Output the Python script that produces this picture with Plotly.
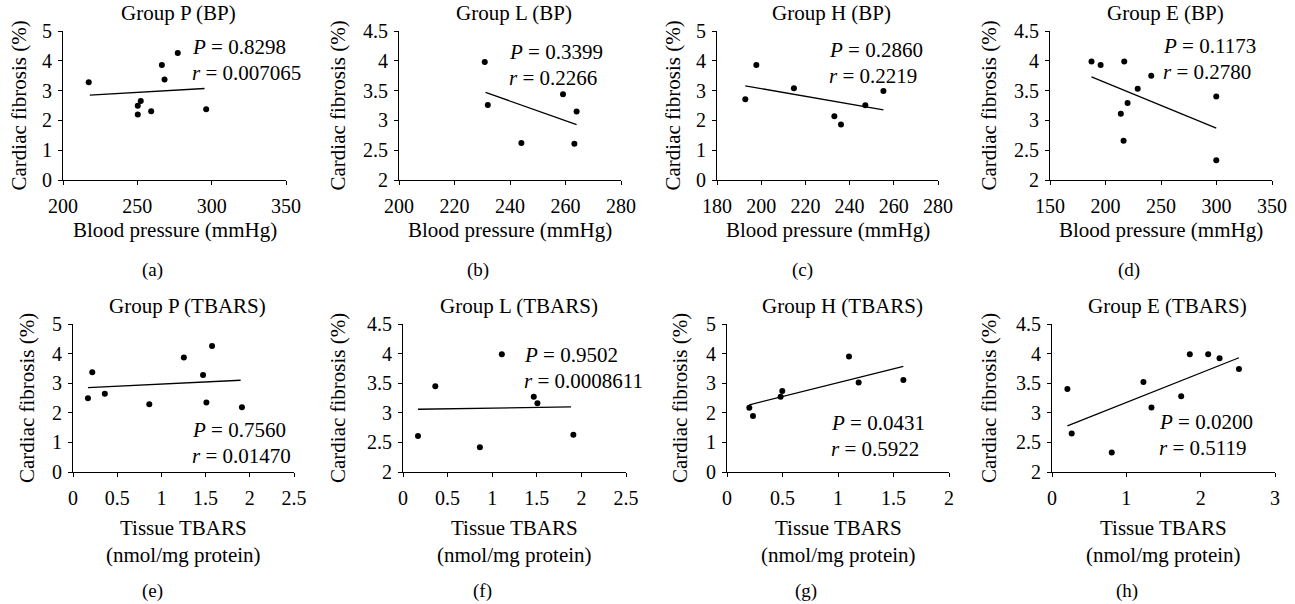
import plotly.graph_objects as go

W, H = 1295, 604

# ---------------- data ----------------
# (a) Group P (BP)
a_x = [217.3, 266.5, 277.2, 268.3, 252.3, 250.3, 250.3, 259.3, 296.3]
a_y = [3.28, 3.86, 4.26, 3.37, 2.65, 2.49, 2.20, 2.31, 2.37]
a_trend_x = [218.0, 295.2]
a_trend_y = [2.85, 3.07]
# (b) Group L (BP)
b_x = [230.9, 232.0, 244.1, 259.1, 264.0, 263.2]
b_y = [3.98, 3.26, 2.62, 3.44, 3.15, 2.61]
b_trend_x = [231.2, 264.0]
b_trend_y = [3.47, 2.93]
# (c) Group H (BP)
c_x = [192.8, 197.8, 214.8, 233.1, 236.1, 247.1, 255.3]
c_y = [2.71, 3.86, 3.08, 2.14, 1.86, 2.51, 2.99]
c_trend_x = [192.8, 255.3]
c_trend_y = [3.16, 2.35]
# (d) Group E (BP)
d_x = [187.4, 195.6, 216.9, 241.2, 229.0, 219.9, 213.8, 216.3, 299.8, 299.8]
d_y = [3.99, 3.93, 3.99, 3.75, 3.53, 3.29, 3.11, 2.66, 3.40, 2.33]
d_trend_x = [187.4, 299.8]
d_trend_y = [3.73, 2.87]
# (e) Group P (TBARS)
e_x = [0.169, 0.218, 0.360, 0.863, 1.254, 1.471, 1.573, 1.509, 1.911]
e_y = [2.49, 3.37, 2.64, 2.29, 3.87, 3.28, 4.26, 2.35, 2.19]
e_trend_x = [0.169, 1.896]
e_trend_y = [2.85, 3.10]
# (f) Group L (TBARS)
f_x = [0.168, 0.362, 0.862, 1.108, 1.466, 1.507, 1.910]
f_y = [2.61, 3.45, 2.42, 3.99, 3.27, 3.16, 2.63]
f_trend_x = [0.168, 1.884]
f_trend_y = [3.06, 3.10]
# (g) Group H (TBARS)
g_x = [0.201, 0.234, 0.483, 0.498, 1.099, 1.186, 1.589]
g_y = [2.17, 1.89, 2.54, 2.74, 3.90, 3.02, 3.11]
g_trend_x = [0.201, 1.589]
g_trend_y = [2.27, 3.57]
# (h) Group E (TBARS)
h_x = [0.207, 0.265, 0.804, 1.230, 1.338, 1.738, 1.854, 2.101, 2.254, 2.515]
h_y = [3.40, 2.65, 2.33, 3.52, 3.09, 3.28, 3.99, 3.99, 3.92, 3.74]
h_trend_x = [0.207, 2.515]
h_trend_y = [2.78, 3.93]

titles = ["Group P (BP)", "Group L (BP)", "Group H (BP)", "Group E (BP)",
          "Group P (TBARS)", "Group L (TBARS)", "Group H (TBARS)", "Group E (TBARS)"]
letters = ["(a)", "(b)", "(c)", "(d)", "(e)", "(f)", "(g)", "(h)"]
p_texts = ["0.8298", "0.3399", "0.2860", "0.1173", "0.7560", "0.9502", "0.0431", "0.0200"]
r_texts = ["0.007065", "0.2266", "0.2219", "0.2780", "0.01470", "0.0008611", "0.5922", "0.5119"]
x_titles = ["Blood pressure (mmHg)"] * 4 + ["Tissue TBARS<br>(nmol/mg protein)"] * 4
y_title = "Cardiac fibrosis (%)"
x_ranges = [[200, 350], [200, 280], [180, 280], [150, 350],
            [0, 2.5], [0, 2.5], [0, 2], [0, 3]]
x_dticks = [50, 20, 20, 50, 0.5, 0.5, 0.5, 1]
y_ranges = [[0, 5], [2, 4.5], [0, 5], [2, 4.5],
            [0, 5], [2, 4.5], [0, 5], [2, 4.5]]
y_dticks = [1, 0.5, 1, 0.5, 1, 0.5, 1, 0.5]

xs = [a_x, b_x, c_x, d_x, e_x, f_x, g_x, h_x]
ys = [a_y, b_y, c_y, d_y, e_y, f_y, g_y, h_y]
txs = [a_trend_x, b_trend_x, c_trend_x, d_trend_x, e_trend_x, f_trend_x, g_trend_x, h_trend_x]
tys = [a_trend_y, b_trend_y, c_trend_y, d_trend_y, e_trend_y, f_trend_y, g_trend_y, h_trend_y]

# ---------------- layout geometry (window pixels) ----------------
plot_x = [(63, 286), (399, 621), (717, 938), (1050, 1272),
          (73, 294), (403, 626), (727, 949), (1052, 1275)]
row_y = [(31, 180), (324, 472)]
stat_pos = [(190, 47, 73), (507, 52, 78), (827, 50, 76), (1161, 46, 72),
            (190, 430, 456), (522, 355, 381), (829, 423, 449), (1157, 422, 448)]
ytitle_x = [18, 337, 672, 988, 27, 338, 680, 989]
letter_x = [152, 478, 802, 1129, 152, 482, 806, 1127]

FONT = "Liberation Serif, Times New Roman, Times, serif"
FS = 21
TFS = 20

def px(x):
    return x / W

def py(y):
    return 1 - y / H

fig = go.Figure()
annotations = []
layout = {}

for i in range(8):
    k = i + 1
    xa = "x" if k == 1 else f"x{k}"
    ya = "y" if k == 1 else f"y{k}"
    row = 0 if i < 4 else 1
    x0, x1 = plot_x[i]
    y0, y1 = row_y[row]

    fig.add_trace(go.Scatter(x=txs[i], y=tys[i], mode="lines",
                             line=dict(color="black", width=1.3),
                             xaxis=xa, yaxis=ya, showlegend=False, hoverinfo="skip"))
    fig.add_trace(go.Scatter(x=xs[i], y=ys[i], mode="markers",
                             marker=dict(color="black", size=6),
                             xaxis=xa, yaxis=ya, showlegend=False))

    axis_common = dict(showgrid=False, zeroline=False, showline=True,
                       linecolor="black", linewidth=1, ticks="outside",
                       ticklen=4, tickwidth=1, tickcolor="black", automargin=False,
                       tickfont=dict(family=FONT, size=TFS, color="black"))
    layout["xaxis" if k == 1 else f"xaxis{k}"] = dict(
        domain=[px(x0), px(x1)], range=x_ranges[i], dtick=x_dticks[i], tick0=0,
        anchor=ya, ticklabelstandoff=4, **axis_common)
    layout["yaxis" if k == 1 else f"yaxis{k}"] = dict(
        domain=[py(y1), py(y0)], range=y_ranges[i], dtick=y_dticks[i], tick0=0,
        anchor=xa, ticklabelstandoff=2, **axis_common)

    cx = (x0 + x1) / 2
    # panel title
    annotations.append(dict(text=titles[i], x=px(cx + 4), y=py(y0 - 18),
                            xref="paper", yref="paper", showarrow=False,
                            xanchor="center", yanchor="middle",
                            font=dict(family=FONT, size=FS, color="black")))
    # stats
    sx, sy1, sy2 = stat_pos[i]
    annotations.append(dict(text=f"<i>P</i> = {p_texts[i]}", x=px(sx), y=py(sy1),
                            xref="paper", yref="paper", showarrow=False,
                            xanchor="left", yanchor="middle",
                            font=dict(family=FONT, size=FS, color="black")))
    annotations.append(dict(text=f"<i>r</i> = {r_texts[i]}", x=px(sx), y=py(sy2),
                            xref="paper", yref="paper", showarrow=False,
                            xanchor="left", yanchor="middle",
                            font=dict(family=FONT, size=FS, color="black")))
    # x axis title
    annotations.append(dict(text=x_titles[i], x=px(cx),
                            y=py(230 if row == 0 else 541),
                            xref="paper", yref="paper", showarrow=False,
                            xanchor="center", yanchor="middle",
                            font=dict(family=FONT, size=FS, color="black")))
    # y axis title
    annotations.append(dict(text=y_title, x=px(ytitle_x[i]), y=py((y0 + y1) / 2),
                            xref="paper", yref="paper", showarrow=False,
                            xanchor="center", yanchor="middle", textangle=-90,
                            font=dict(family=FONT, size=FS, color="black")))
    # panel letter
    annotations.append(dict(text=letters[i], x=px(letter_x[i]),
                            y=py(270 if row == 0 else 591),
                            xref="paper", yref="paper", showarrow=False,
                            xanchor="center", yanchor="middle",
                            font=dict(family=FONT, size=TFS - 1, color="black")))

fig.update_layout(template="none", width=W, height=H,
                  margin=dict(l=0, r=0, t=0, b=0, pad=0), autosize=False,
                  paper_bgcolor="white", plot_bgcolor="white",
                  font=dict(family=FONT, size=FS, color="black"),
                  annotations=annotations, showlegend=False, **layout)

fig.write_html("out.html",
               config={"displayModeBar": False, "staticPlot": True},
               post_script="document.body.style.margin='0px';"
                           "document.body.style.overflow='hidden';")
